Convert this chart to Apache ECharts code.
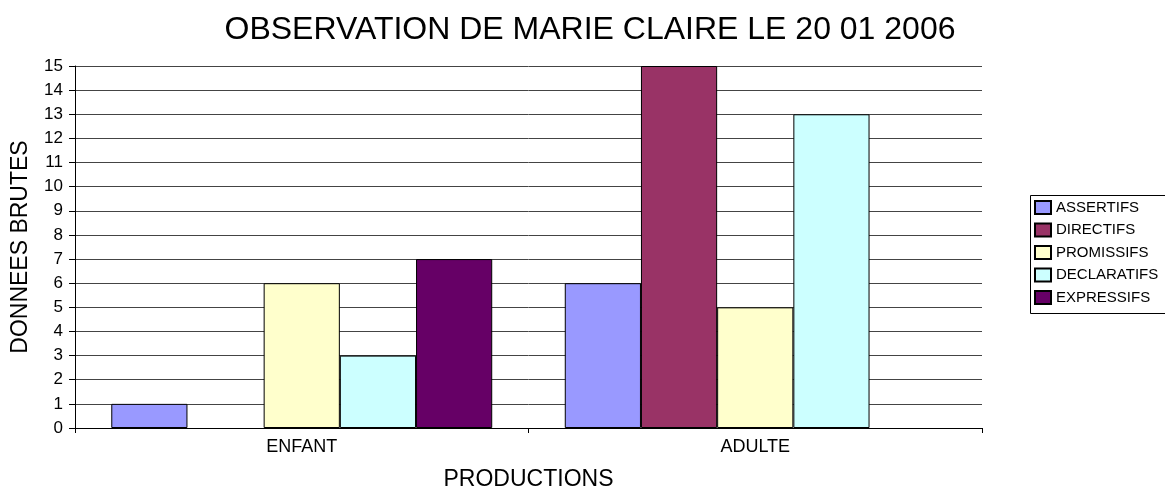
<!DOCTYPE html>
<html>
<head>
<meta charset="utf-8">
<script src="https://cdn.jsdelivr.net/npm/echarts@6/dist/echarts.min.js"></script>
<style>
html, body { margin: 0; padding: 0; background: #fff; }
#chart { width: 1165px; height: 496px; }
</style>
</head>
<body>
<div id="chart"></div>
<script>
var categories = ['ENFANT', 'ADULTE'];
var seriesNames = ['ASSERTIFS', 'DIRECTIFS', 'PROMISSIFS', 'DECLARATIFS', 'EXPRESSIFS'];
var assertifs = [1, 6];
var directifs = [0, 15];
var promissifs = [6, 5];
var declaratifs = [3, 13];
var expressifs = [7, 0];
var colors = ['#9999FF', '#993366', '#FFFFCC', '#CCFFFF', '#660066'];

var values = [assertifs, directifs, promissifs, declaratifs, expressifs];
var font = 'Liberation Sans, Arial, sans-serif';

var myChart = echarts.init(document.getElementById('chart'));

var option = {
    animation: false,
    title: {
        text: 'OBSERVATION DE MARIE CLAIRE LE 20 01 2006',
        left: 585,
        textAlign: 'center',
        top: 9,
        textStyle: { fontFamily: font, fontSize: 32, fontWeight: 'normal', color: '#000' }
    },
    // legend frame, runs off the right edge like the original
    graphic: [{
        type: 'rect',
        shape: { x: 1030.5, y: 195.5, width: 160, height: 118 },
        style: { fill: 'none', stroke: '#000', lineWidth: 1 },
        z: 0
    }],
    legend: {
        orient: 'vertical',
        left: 1030,
        top: 195,
        padding: [5, 0, 7, 4],
        itemWidth: 16,
        itemHeight: 13,
        itemGap: 7.5,
        icon: 'rect',
        data: seriesNames,
        textStyle: { fontFamily: font, fontSize: 15, lineHeight: 15, color: '#000' }
    },
    grid: {
        left: 75,
        right: 183,
        top: 66,
        bottom: 63
    },
    xAxis: {
        type: 'category',
        data: categories,
        name: 'PRODUCTIONS',
        nameLocation: 'middle',
        nameGap: 40,
        nameTextStyle: { fontFamily: font, fontSize: 23, color: '#000' },
        axisLine: { lineStyle: { color: '#000' } },
        axisTick: { show: true, length: 5, lineStyle: { color: '#000' } },
        axisLabel: { fontFamily: font, fontSize: 18, color: '#000', margin: 10 }
    },
    yAxis: {
        type: 'value',
        min: 0,
        max: 15,
        interval: 1,
        name: 'DONNEES BRUTES',
        nameLocation: 'middle',
        nameGap: 43,
        nameTextStyle: { fontFamily: font, fontSize: 23, color: '#000' },
        axisLine: { show: true, lineStyle: { color: '#000' } },
        axisTick: { show: true, length: 6, lineStyle: { color: '#000' } },
        axisLabel: { fontFamily: font, fontSize: 17, color: '#000', margin: 12 },
        splitLine: { lineStyle: { color: '#444', width: 1 } }
    },
    series: seriesNames.map(function (name, i) {
        return {
            name: name,
            type: 'bar',
            // empty bars are left out so no flat outline is drawn
            data: values[i].map(function (v) { return v === 0 ? '-' : v; }),
            barGap: '0%',
            barCategoryGap: '16%',
            itemStyle: { color: colors[i], borderColor: '#000', borderWidth: 1 }
        };
    })
};
myChart.setOption(option);
</script>
</body>
</html>
